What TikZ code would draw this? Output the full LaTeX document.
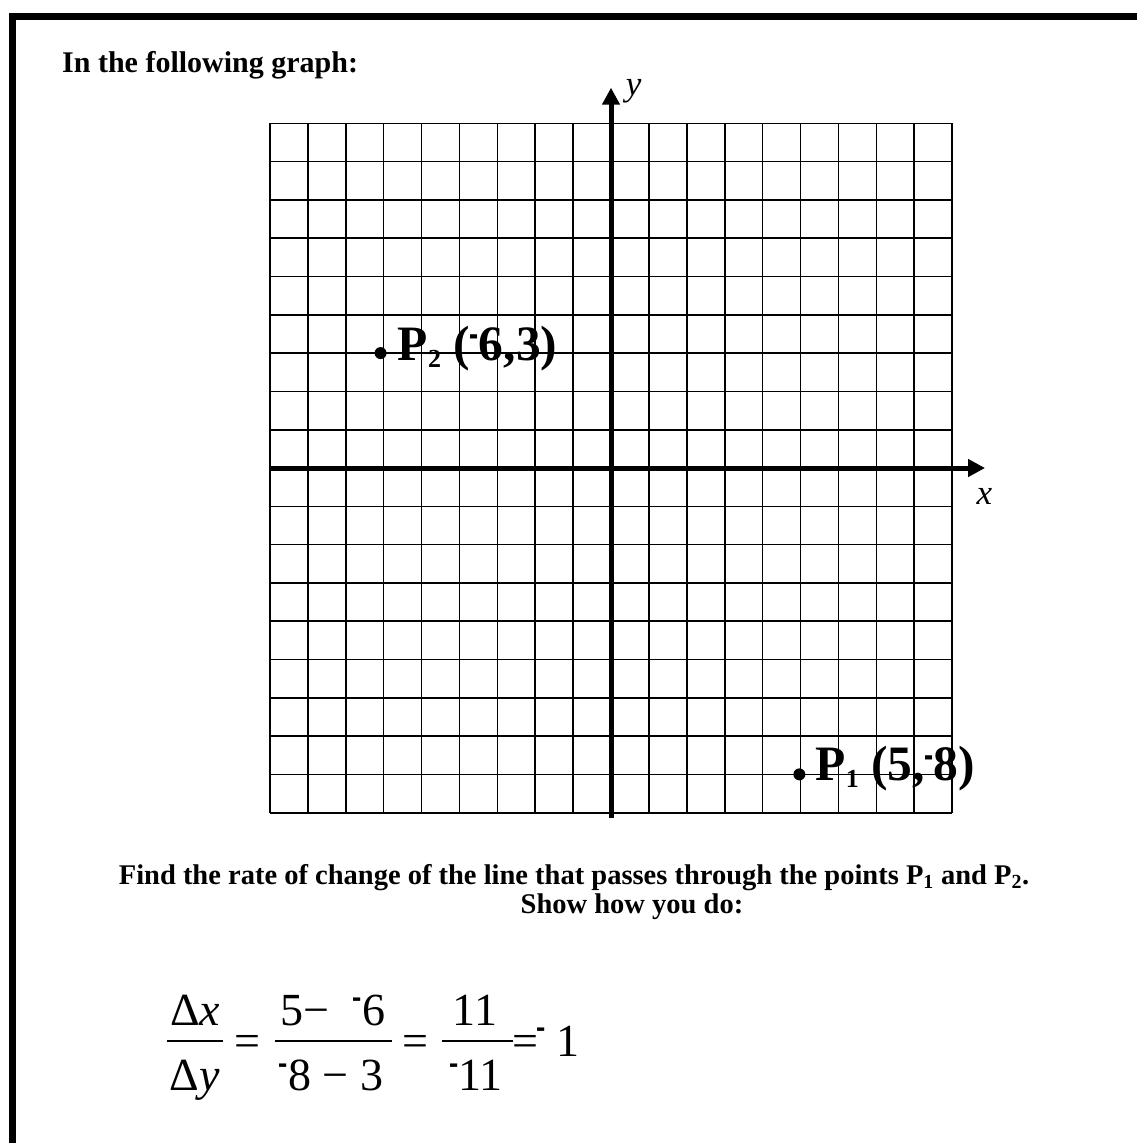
\documentclass[tikz,border=0pt]{standalone}
\usepackage{fontspec}
\usepackage{graphicx}
\setmainfont{Liberation Serif}
\usetikzlibrary{arrows.meta}
\newcommand{\supminus}[2]{\raisebox{#1}{\scalebox{#2}[1]{-}}}
\newcommand{\lowsub}[1]{\raisebox{-0.15em}{\fontsize{26}{26}\selectfont #1}}
\tikzset{
  frame/.style={line width=7pt, line join=miter},
  gridline/.style={line width=1.6pt, black},
  axisline/.style={line width=5pt, -{Triangle[length=17pt,width=17pt]}},
  dotpt/.style={circle, fill=black, inner sep=0pt, minimum size=12pt},
  ptlabel/.style={anchor=base west, inner sep=0pt, font=\bfseries\fontsize{49.5}{54}\selectfont},
  axlabel/.style={inner sep=0pt, font=\itshape\fontsize{35}{40}\selectfont},
  eq/.style={inner sep=0pt, anchor=base, font=\fontsize{46}{52}\selectfont},
  question/.style={anchor=base, inner sep=0pt, font=\bfseries\fontsize{28.5}{32}\selectfont},
  bar/.style={line width=2pt},
}
\begin{document}
\begin{tikzpicture}[x=1pt,y=-1pt]
\useasboundingbox (0,0) rectangle (1137,1143);
\draw[frame] (1137,16) -- (12,16) -- (12,1143);

\node[anchor=base west, inner sep=0pt, font=\bfseries\fontsize{30}{36}\selectfont] (title) at (62,72) {In the following graph:};

\begin{scope}[shift={(611,468)}, x=37.9pt, y=38.3pt]
  \foreach \i in {-9,...,9} {
    \draw[gridline] (\i,-9) -- (\i,9);
    \draw[gridline] (-9,\i) -- (9,\i);
  }
  \coordinate (xs) at (-9,0);
  \coordinate (xe) at (9.87,0);
  \coordinate (ys) at (0,-9.15);
  \coordinate (ye) at (0,9.93);
  \draw[axisline] (xs) -- (xe);
  \draw[axisline] (ys) -- (ye);
  \node[axlabel] (ylab) at (0.6,9.85) {y};
  \node[axlabel] (xlab) at (9.85,-0.75) {x};
  \node[dotpt] (p2) at (-6.08,3.0) {};
  \node[dotpt] (p1) at (4.97,-8.0) {};
  \node[ptlabel, xshift=17pt, yshift=-7pt] (p2lab) at (p2) {P\lowsub{2} (\supminus{0.24em}{0.55}6,3)};
  \node[ptlabel, xshift=16pt, yshift=-6pt] (p1lab) at (p1) {P\lowsub{1} (5,\supminus{0.22em}{0.55}8)};
\end{scope}

\node[question] (q1) at (574,884) {Find the rate of change of the line that passes through the points P\textsubscript{1} and P\textsubscript{2}.};
\node[question] (q2) at (632,913) {Show how you do:};

% equation
\node[eq] (n1) at (195,1025) {Δ\textit{x}};
\draw[bar] (167,1041) -- (223,1041);
\node[eq] (d1) at (195,1090) {Δ\textit{y}};
\node[eq] (e1) at (247,1056) {=};
\node[eq] (n2) at (333,1025) {5− \ \supminus{0.32em}{0.6}6};
\draw[bar] (275,1041) -- (392,1041);
\node[eq] (d2) at (331,1090) {\supminus{0.3em}{0.6}8 − 3};
\node[eq] (e2) at (415,1056) {=};
\node[eq] (n3) at (475,1025) {11};
\draw[bar] (442,1041) -- (513,1041);
\node[eq] (d3) at (476,1090) {\supminus{0.3em}{0.6}11};
\node[eq] (e3) at (525,1056) {=};
\node[eq] (r) at (558,1056) {\supminus{0.33em}{0.6}\ 1};
\end{tikzpicture}
\end{document}
